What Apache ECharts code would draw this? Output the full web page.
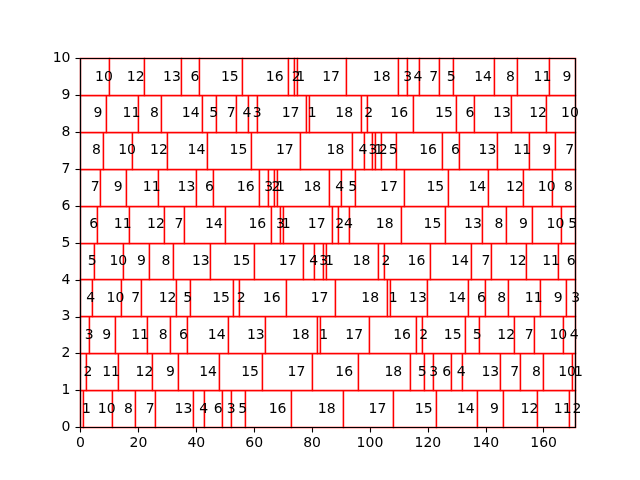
<!DOCTYPE html>
<html>
<head>
<meta charset="utf-8">
<script src="https://cdn.jsdelivr.net/npm/echarts@6/dist/echarts.min.js"></script>
<style>html,body{margin:0;padding:0;background:#fff}#c{width:640px;height:480px}</style>
</head>
<body>
<div id="c"></div>
<script>
const row0 = [1,10,8,7,13,4,6,3,5,16,18,17,15,14,9,12,11,2];
const row1 = [2,11,12,9,14,15,17,16,18,5,3,6,4,13,7,8,10,1];
const row2 = [3,9,11,8,6,14,13,18,1,17,16,2,15,5,12,7,10,4];
const row3 = [4,10,7,12,5,15,2,16,17,18,1,13,14,6,8,11,9,3];
const row4 = [5,10,9,8,13,15,17,4,3,1,18,2,16,14,7,12,11,6];
const row5 = [6,11,12,7,14,16,3,1,17,2,4,18,15,13,8,9,10,5];
const row6 = [7,9,11,13,6,16,3,2,1,18,4,5,17,15,14,12,10,8];
const row7 = [8,10,12,14,15,17,18,4,3,1,2,5,16,6,13,11,9,7];
const row8 = [9,11,8,14,5,7,4,3,17,1,18,2,16,15,6,13,12,10];
const row9 = [10,12,13,6,15,16,2,1,17,18,3,4,7,5,14,8,11,9];
const rows = [row0,row1,row2,row3,row4,row5,row6,row7,row8,row9];
const xTicks = [0,20,40,60,80,100,120,140,160];
const yTicks = [0,1,2,3,4,5,6,7,8,9,10];

const data = [];
rows.forEach((r, ri) => {
  let start = 0;
  r.forEach(w => { data.push([start, w, ri]); start += w; });
});

const font = 'DejaVu Sans';
const G = {left: 80.5, right: 64.5, top: 58.5, bottom: 52.5};
const snap = v => Math.floor(v + 0.01) + 0.5;
const chart = echarts.init(document.getElementById('c'), null, {renderer: 'canvas'});
chart.setOption({
  animation: false,
  backgroundColor: '#fff',
  grid: {left: G.left, right: G.right, top: G.top, bottom: G.bottom, show: false},
  graphic: [{
    type: 'rect', z: 100, silent: true,
    shape: {x: G.left, y: G.top, width: 640 - G.right - G.left, height: 480 - G.bottom - G.top},
    style: {fill: null, stroke: '#000', lineWidth: 1.2}
  }],
  xAxis: {
    type: 'value', min: 0, max: 171, interval: 20,
    axisLine: {show: false},
    axisTick: {show: true, inside: false, length: 5, lineStyle: {color: '#000', width: 1.1}, customValues: xTicks},
    axisLabel: {color: '#000', fontFamily: font, fontSize: 14, margin: 9, customValues: xTicks},
    splitLine: {show: false}
  },
  yAxis: {
    type: 'value', min: 0, max: 10, interval: 1,
    axisLine: {show: false},
    axisTick: {show: true, inside: false, length: 5, lineStyle: {color: '#000', width: 1.1}, customValues: yTicks},
    axisLabel: {color: '#000', fontFamily: font, fontSize: 14, margin: 10, customValues: yTicks},
    splitLine: {show: false}
  },
  series: [
    {
      type: 'custom', z: 2,
      data: data,
      encode: {x: [0], y: [2]},
      renderItem: function (params, api) {
        const s = api.value(0), w = api.value(1), r = api.value(2);
        const p0 = api.coord([s, r + 1]);
        const p1 = api.coord([s + w, r]);
        const x0 = snap(p0[0]), y0 = snap(p0[1]), x1 = snap(p1[0]), y1 = snap(p1[1]);
        return {
          type: 'rect',
          shape: {x: x0, y: y0, width: x1 - x0, height: y1 - y0},
          style: {fill: '#fff', stroke: '#ff0000', lineWidth: 1.4}
        };
      }
    },
    {
      type: 'custom', z: 3,
      data: data,
      encode: {x: [0], y: [2]},
      renderItem: function (params, api) {
        const s = api.value(0), w = api.value(1), r = api.value(2);
        const p = api.coord([s + w / 2, r + 0.5]);
        return {
          type: 'text',
          x: p[0], y: p[1],
          style: {text: String(w), fill: '#000', font: '14px "DejaVu Sans"', textAlign: 'left', textVerticalAlign: 'middle'}
        };
      }
    }
  ]
});
</script>
</body>
</html>
